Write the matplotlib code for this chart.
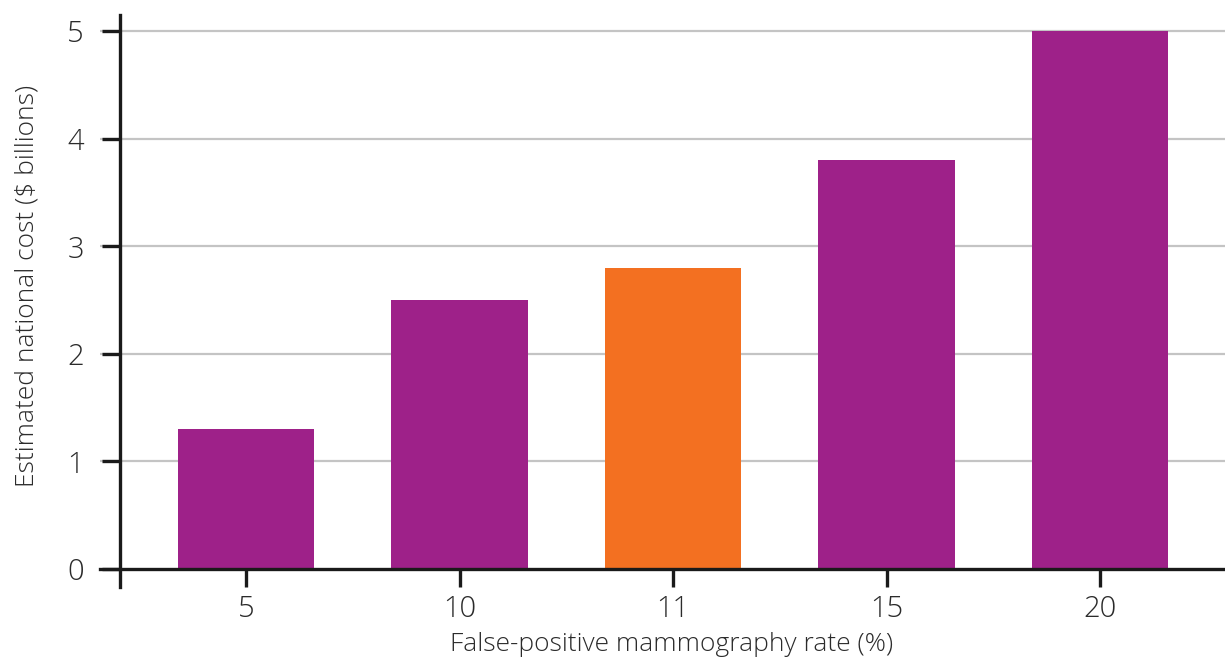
import matplotlib
matplotlib.use("Agg")
import matplotlib.pyplot as plt

rates = ["5", "10", "11", "15", "20"]
cost = [1.3, 2.5, 2.8, 3.8, 5.0]
highlight = "11"

purple = "#9E2189"
orange = "#F37021"
ink = "#2b2b2b"

plt.rcParams['font.family'] = ['Open Sans', 'DejaVu Sans']

fig = plt.figure(figsize=(12.25, 6.66), dpi=100)
ax = fig.add_axes([0.0816, 0.1186, 0.9184, 0.8589])

colors = [orange if r == highlight else purple for r in rates]
xs = list(range(len(rates)))
ax.bar(xs, cost, width=0.64, color=colors, zorder=3)

ax.set_xlim(-0.684, 4.585)
ax.set_ylim(-0.167, 5.15)

ax.set_yticks([0, 1, 2, 3, 4, 5])
ax.set_xticks(xs)
ax.set_xticklabels(rates)

for y in [1, 2, 3, 4, 5]:
    ax.axhline(y, color="#c4c4c4", lw=1.6, zorder=1)

for s in ["top", "right"]:
    ax.spines[s].set_visible(False)
ax.spines["left"].set_position(("data", -0.59))
ax.spines["bottom"].set_position(("data", 0))
for s in ["left", "bottom"]:
    ax.spines[s].set_linewidth(2.4)
    ax.spines[s].set_color("#1a1a1a")
    ax.spines[s].set_zorder(4)

ax.tick_params(axis="both", direction="out", length=13, width=2.4,
               color="#1a1a1a", labelsize=21, labelcolor=ink, pad=5)
ax.tick_params(axis="y", pad=13)

ax.set_xlabel("False-positive mammography rate (%)", fontsize=19,
              color=ink, fontweight="light", labelpad=6)
ax.set_ylabel("Estimated national cost ($ billions)", fontsize=19,
              color=ink, fontweight="light")
ax.yaxis.set_label_coords(-0.054, 0.526)
ax.xaxis.label.set_x(0.508)
for lab in ax.get_xticklabels() + ax.get_yticklabels():
    lab.set_fontweight("light")

fig.savefig("out.png", dpi=100)
